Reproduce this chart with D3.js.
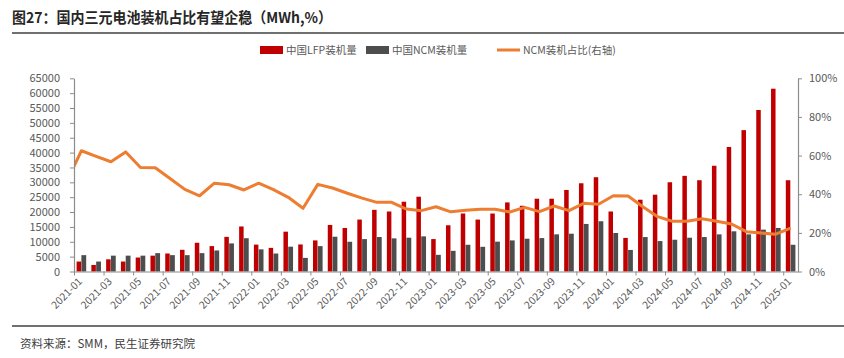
<!DOCTYPE html>
<html>
<head>
<meta charset="utf-8">
<script src="https://cdn.jsdelivr.net/npm/d3@7"></script>
<style>
  html, body { margin: 0; padding: 0; background: #fff; }
  svg { display: block; }
  text { font-family: "Noto Sans CJK SC", "Noto Sans", sans-serif; }
</style>
</head>
<body>
<svg id="chart" width="844" height="358"></svg>
<script>
// ---------------- data ----------------
const months = [
  "2021-01","2021-02","2021-03","2021-04","2021-05","2021-06","2021-07","2021-08","2021-09","2021-10","2021-11","2021-12",
  "2022-01","2022-02","2022-03","2022-04","2022-05","2022-06","2022-07","2022-08","2022-09","2022-10","2022-11","2022-12",
  "2023-01","2023-02","2023-03","2023-04","2023-05","2023-06","2023-07","2023-08","2023-09","2023-10","2023-11","2023-12",
  "2024-01","2024-02","2024-03","2024-04","2024-05","2024-06","2024-07","2024-08","2024-09","2024-10","2024-11","2024-12",
  "2025-01"
];
const lfpValues = [3350, 2200, 4100, 3350, 4700, 5330, 6060, 7300, 9670, 8550, 11650, 15150,
  9050, 7950, 13400, 9100, 10460, 15660, 14650, 17470, 20750, 20190, 23470, 25160,
  10910, 15550, 19510, 17470, 19510, 23240, 22110, 24490, 24490, 27430, 29690, 31720,
  20190, 11300, 24150, 25840, 30030, 32180, 30710, 35570, 41900, 47560, 54340, 61500,
  30710];
const ncmValues = [5500, 3350, 5330, 5330, 5330, 6180, 5500, 5500, 6180, 7080, 9450, 11200,
  7450, 6050, 8350, 4580, 8540, 11700, 10000, 10900, 11600, 11140, 11370, 11820,
  5600, 6950, 8990, 8310, 10040, 10460, 11030, 11250, 12500, 12720, 16000, 16910,
  12950, 7250, 11590, 10240, 10690, 11370, 11590, 12500, 13520, 12500, 14080, 14650,
  8990];
// NCM share (%), right axis; leading value is the point just before 2021-01, visible where the line enters the plot
const sharePrev = 46.5;
const shareValues = [62.5, 59.6, 56.8, 61.9, 53.8, 53.7, 48.1, 42.5, 39.2, 45.7, 44.9, 42.2,
  45.7, 42.4, 38.4, 32.7, 45.1, 43.2, 40.5, 38.0, 35.8, 35.8, 32.3, 31.5,
  33.5, 30.9, 31.7, 32.2, 32.2, 30.8, 33.2, 31.0, 33.9, 31.5, 35.3, 34.8,
  39.2, 39.1, 33.5, 28.4, 26.0, 26.0, 27.3, 26.0, 24.6, 20.6, 19.9, 19.3,
  22.4];
const leftTicks = [0,5000,10000,15000,20000,25000,30000,35000,40000,45000,50000,55000,60000,65000];
const rightTicks = [0,20,40,60,80,100];
const seriesNames = ["中国LFP装机量", "中国NCM装机量", "NCM装机占比(右轴)"];
const titleText = "图27：国内三元电池装机占比有望企稳（MWh,%）";
const sourceText = "资料来源：SMM，民生证券研究院";

// ---------------- layout ----------------
const W = 844, H = 358;
const plot = { left: 74, right: 798, top: 78.3, bottom: 271.5 };
const colLFP = "#C00000", colNCM = "#4D4D4D", colLine = "#ED7D31";
const axisCol = "#8C8C8C", textCol = "#595959";

const svg = d3.select("#chart");

// title + rules
svg.append("text").attr("x", 12).attr("y", 23)
  .attr("font-size", 15).attr("font-weight", "bold").attr("fill", "#262626")
  .attr("textLength", 320).attr("lengthAdjust", "spacingAndGlyphs")
  .text(titleText);
svg.append("line").attr("x1", 12).attr("x2", W).attr("y1", 33).attr("y2", 33)
  .attr("stroke", "#404040").attr("stroke-width", 1.6);
svg.append("line").attr("x1", 12).attr("x2", W).attr("y1", 326).attr("y2", 326)
  .attr("stroke", "#404040").attr("stroke-width", 1.6);
svg.append("text").attr("x", 20).attr("y", 348)
  .attr("font-size", 11.5).attr("fill", "#404040").text(sourceText);

// scales
const x = d3.scaleBand().domain(months).range([plot.left, plot.right])
  .paddingInner(0.35).paddingOuter(0.175);
const xs = d3.scaleBand().domain(["lfp", "ncm"]).range([0, x.bandwidth()]);
const xIdx = d3.scaleLinear().domain([0, months.length]).range([plot.left, plot.right]);
const y = d3.scaleLinear().domain([0, 65000]).range([plot.bottom, plot.top]);
const y2 = d3.scaleLinear().domain([0, 100]).range([plot.bottom, plot.top]);
const cx = m => x(m) + x.bandwidth() / 2;

// bars
const g = svg.append("g");
g.selectAll("rect.lfp").data(months).join("rect").attr("class", "lfp")
  .attr("x", (m) => x(m) + xs("lfp"))
  .attr("width", xs.bandwidth() - 0.3)
  .attr("y", (m, i) => y(lfpValues[i]))
  .attr("height", (m, i) => y(0) - y(lfpValues[i]))
  .attr("fill", colLFP);
g.selectAll("rect.ncm").data(months).join("rect").attr("class", "ncm")
  .attr("x", (m) => x(m) + xs("ncm"))
  .attr("width", xs.bandwidth())
  .attr("y", (m, i) => y(ncmValues[i]))
  .attr("height", (m, i) => y(0) - y(ncmValues[i]))
  .attr("fill", colNCM);

// line (clipped to plot)
svg.append("clipPath").attr("id", "clipPlot").append("rect")
  .attr("x", plot.left).attr("y", 0).attr("width", plot.right - plot.left).attr("height", H);
const linePts = [[cx(months[0]) - x.step(), y2(sharePrev)]]
  .concat(months.map((m, i) => [cx(m), y2(shareValues[i])]));
svg.append("path").attr("clip-path", "url(#clipPlot)")
  .attr("d", d3.line()(linePts))
  .attr("fill", "none").attr("stroke", colLine).attr("stroke-width", 3)
  .attr("stroke-linejoin", "round");

// axes
function styleAxis(sel) {
  sel.select(".domain").attr("stroke", axisCol).attr("stroke-width", 1.2);
  sel.selectAll(".tick line").attr("stroke", axisCol);
  sel.selectAll(".tick text").attr("fill", textCol)
    .attr("font-family", "'Noto Sans', 'Open Sans', sans-serif").attr("font-size", 11);
}
svg.append("g").attr("transform", `translate(${plot.left},0)`)
  .call(d3.axisLeft(y).tickValues(leftTicks).tickSize(4).tickSizeOuter(0).tickPadding(10)
    .tickFormat(d3.format("d")))
  .call(styleAxis);
svg.append("g").attr("transform", `translate(${plot.right},0)`)
  .call(d3.axisRight(y2).tickValues(rightTicks).tickSize(4).tickSizeOuter(0).tickPadding(7)
    .tickFormat(d => d + "%"))
  .call(styleAxis);
svg.append("g").attr("transform", `translate(0,${plot.bottom})`)
  .call(d3.axisBottom(xIdx).tickValues(d3.range(0, months.length, 2)).tickFormat("")
    .tickSize(4).tickSizeOuter(0))
  .call(styleAxis);

// rotated x labels at category centres
svg.append("g").selectAll("text").data(months.filter((m, i) => i % 2 === 0)).join("text")
  .attr("transform", m => `translate(${cx(m) - 1},${plot.bottom + 8}) rotate(-45)`)
  .attr("text-anchor", "end").attr("dy", "0.35em")
  .attr("font-family", "'Noto Sans', 'Open Sans', sans-serif").attr("font-size", 10.5)
  .attr("fill", textCol).text(m => m);

// legend
const lg = svg.append("g").attr("font-size", 10.5).attr("fill", textCol);
const legY = 50;
const legItems = [
  { x: 260, type: "rect", col: colLFP, name: seriesNames[0] },
  { x: 366, type: "rect", col: colNCM, name: seriesNames[1] },
  { x: 497, type: "line", col: colLine, name: seriesNames[2] }
];
legItems.forEach(it => {
  if (it.type === "rect") {
    lg.append("rect").attr("x", it.x).attr("y", legY - 4).attr("width", 23).attr("height", 8).attr("fill", it.col);
  } else {
    lg.append("line").attr("x1", it.x).attr("x2", it.x + 23).attr("y1", legY).attr("y2", legY)
      .attr("stroke", it.col).attr("stroke-width", 3);
  }
  lg.append("text").attr("x", it.x + 26).attr("y", legY).attr("dy", "0.36em")
    .attr("fill", textCol).text(it.name);
});
</script>
</body>
</html>
